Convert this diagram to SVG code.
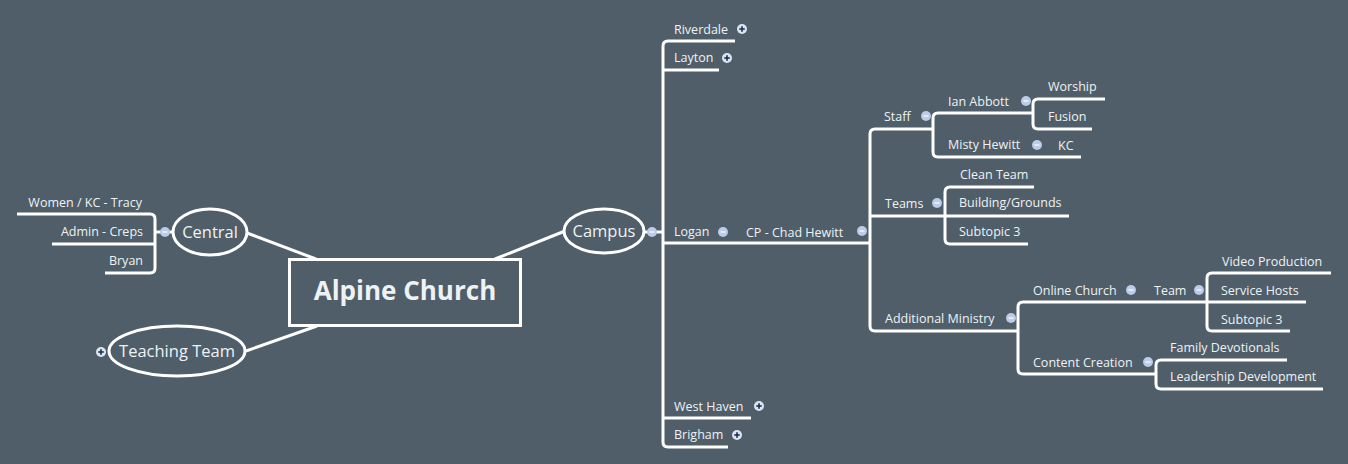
<svg xmlns="http://www.w3.org/2000/svg" width="1348" height="464" viewBox="0 0 1348 464">
<defs>
<style>
.bg{fill:#4f5e69}
.ln{fill:none;stroke:#ffffff;stroke-width:3;stroke-linejoin:round;stroke-linecap:butt}
.shape{fill:#4f5e69;stroke:#ffffff;stroke-width:3}
.t{font-family:"Open Sans","Noto Sans",sans-serif;font-size:12.5px;fill:#eef2f4}
.tm{font-family:"Open Sans","Noto Sans",sans-serif;font-size:16.5px;fill:#eef2f4}
.tc{font-family:"Open Sans","Noto Sans",sans-serif;font-size:26px;font-weight:bold;fill:#eef2f4}
</style>
<g id="minus"><circle r="5" fill="#bccbe8"/><line x1="-2.5" y1="0" x2="2.5" y2="0" stroke="#eef2fa" stroke-width="1.6"/></g>
<g id="plus"><circle r="5" fill="#dbe5f2"/><path d="M-2.8,0H2.8M0,-2.8V2.8" stroke="#1d2a4a" stroke-width="1.6"/></g>
</defs>
<rect class="bg" x="0" y="0" width="1348" height="464"/>
<g id="connectors">
<line class="ln" x1="247" y1="233" x2="316" y2="259"/>
<line class="ln" x1="246" y1="351" x2="317" y2="326"/>
<line class="ln" x1="495" y1="259" x2="565" y2="231"/>
<path class="ln" d="M155,232H173"/>
<path class="ln" d="M17,214H150Q155,214 155,219V268Q155,273 150,273H105"/>
<path class="ln" d="M52,244H155"/>
<path class="ln" d="M644,232H663"/>
<path class="ln" d="M735,41H668Q663,41 663,46V442Q663,447 668,447H728"/>
<path class="ln" d="M663,70H719"/>
<path class="ln" d="M663,243H870"/>
<path class="ln" d="M663,418H751"/>
<path class="ln" d="M933,129H875Q870,129 870,134V326Q870,331 875,331H1019"/>
<path class="ln" d="M870,216H945"/>
<path class="ln" d="M1033,113H938Q933,113 933,118V152Q933,157 938,157H1081"/>
<path class="ln" d="M1105,99H1038Q1033,99 1033,104V124Q1033,129 1038,129H1092"/>
<path class="ln" d="M1034,187H950Q945,187 945,192V239Q945,244 950,244H1028"/>
<path class="ln" d="M945,216H1069"/>
<path class="ln" d="M1207,302H1023Q1018,302 1018,307V369Q1018,374 1023,374H1156"/>
<path class="ln" d="M1331,273H1212Q1207,273 1207,278V326Q1207,331 1212,331H1290"/>
<path class="ln" d="M1207,302H1306"/>
<path class="ln" d="M1287,360H1161Q1156,360 1156,365V384Q1156,389 1161,389H1323"/>
</g>
<g id="n-alpine"><rect class="shape" x="289.5" y="259.5" width="231" height="66"/><text class="tc" x="405" y="300" text-anchor="middle">Alpine Church</text></g>
<g id="n-central"><ellipse class="shape" cx="210" cy="232" rx="37" ry="23"/><text class="tm" x="210" y="238" text-anchor="middle">Central</text><use href="#minus" x="165" y="232"/></g>
<g id="n-teaching"><ellipse class="shape" cx="177" cy="351" rx="68" ry="25"/><text class="tm" x="177" y="357" text-anchor="middle">Teaching Team</text><use href="#plus" x="101" y="352"/></g>
<g id="n-campus"><ellipse class="shape" cx="604" cy="231" rx="40" ry="22"/><text class="tm" x="604" y="237" text-anchor="middle">Campus</text><use href="#minus" x="652" y="232"/></g>
<g id="n-women"><text class="t" x="142" y="207" text-anchor="end">Women / KC - Tracy</text></g>
<g id="n-admin"><text class="t" x="143" y="236" text-anchor="end">Admin - Creps</text></g>
<g id="n-bryan"><text class="t" x="143" y="265" text-anchor="end">Bryan</text></g>
<g id="n-riverdale"><text class="t" x="674" y="34">Riverdale</text><use href="#plus" x="742" y="29"/></g>
<g id="n-layton"><text class="t" x="674" y="62">Layton</text><use href="#plus" x="727" y="58"/></g>
<g id="n-logan"><text class="t" x="674" y="236">Logan</text><use href="#minus" x="723" y="232"/></g>
<g id="n-cp"><text class="t" x="746" y="237">CP - Chad Hewitt</text><use href="#minus" x="862" y="231"/></g>
<g id="n-westhaven"><text class="t" x="674" y="411">West Haven</text><use href="#plus" x="759" y="406"/></g>
<g id="n-brigham"><text class="t" x="674" y="439">Brigham</text><use href="#plus" x="737" y="435"/></g>
<g id="n-staff"><text class="t" x="884" y="121">Staff</text><use href="#minus" x="926" y="116"/></g>
<g id="n-ian"><text class="t" x="948" y="106">Ian Abbott</text><use href="#minus" x="1026" y="101"/></g>
<g id="n-worship"><text class="t" x="1048" y="91">Worship</text></g>
<g id="n-fusion"><text class="t" x="1048" y="121">Fusion</text></g>
<g id="n-misty"><text class="t" x="948" y="149">Misty Hewitt</text><use href="#minus" x="1037" y="145"/></g>
<g id="n-kc"><text class="t" x="1058" y="150">KC</text></g>
<g id="n-teams"><text class="t" x="885" y="208">Teams</text><use href="#minus" x="937" y="203"/></g>
<g id="n-clean"><text class="t" x="960" y="179">Clean Team</text></g>
<g id="n-building"><text class="t" x="959" y="207">Building/Grounds</text></g>
<g id="n-sub3a"><text class="t" x="959" y="236">Subtopic 3</text></g>
<g id="n-additional"><text class="t" x="885" y="323">Additional Ministry</text><use href="#minus" x="1011" y="318"/></g>
<g id="n-online"><text class="t" x="1033" y="295">Online Church</text><use href="#minus" x="1131" y="290"/></g>
<g id="n-team"><text class="t" x="1154" y="295">Team</text><use href="#minus" x="1199" y="290"/></g>
<g id="n-video"><text class="t" x="1222" y="266">Video Production</text></g>
<g id="n-hosts"><text class="t" x="1221" y="295">Service Hosts</text></g>
<g id="n-sub3b"><text class="t" x="1221" y="324">Subtopic 3</text></g>
<g id="n-content"><text class="t" x="1033" y="367">Content Creation</text><use href="#minus" x="1148" y="362"/></g>
<g id="n-family"><text class="t" x="1170" y="352">Family Devotionals</text></g>
<g id="n-leadership"><text class="t" x="1170" y="381">Leadership Development</text></g>
</svg>
